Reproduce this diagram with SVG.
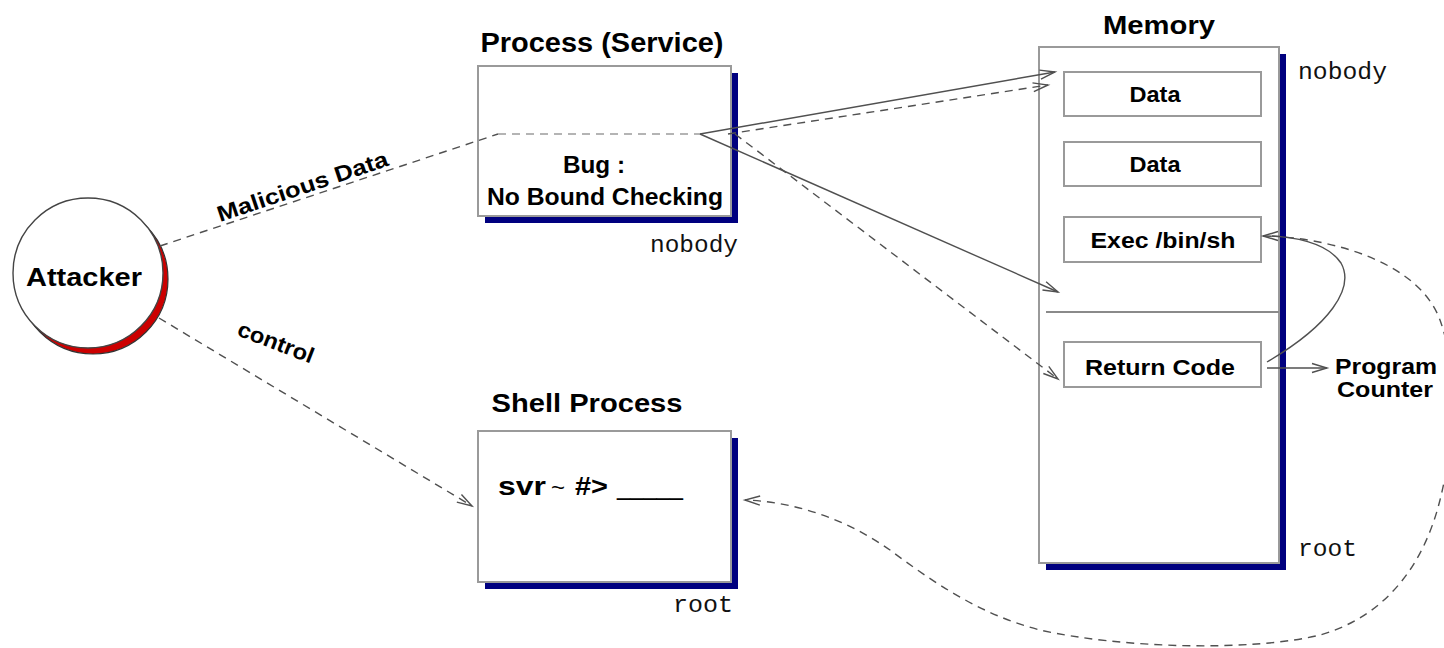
<svg xmlns="http://www.w3.org/2000/svg" width="1444" height="648" viewBox="0 0 1444 648">
<style>
  .box { fill: #ffffff; stroke: #9a9a9a; stroke-width: 2; }
  .shadow { fill: #00007f; }
  .cell { fill: #ffffff; stroke: #9a9a9a; stroke-width: 2; }
  .t { font-family: "Liberation Sans", Arial, sans-serif; font-weight: bold; fill: #000; }
  .m { font-family: "Liberation Mono", "Courier New", monospace; fill: #111; }
  .ln { fill: none; stroke: #505050; stroke-width: 1.4; }
  .dash { fill: none; stroke: #505050; stroke-width: 1.4; stroke-dasharray: 8 6; }
  .dashlight { fill: none; stroke: #b4b4b4; stroke-width: 2; stroke-dasharray: 8 6; }
</style>
<defs>
  <marker id="arr" markerUnits="userSpaceOnUse" markerWidth="18" markerHeight="12" refX="15" refY="6" orient="auto" overflow="visible">
    <path d="M0,1.5 L15,6 L0,10.5" fill="none" stroke="#505050" stroke-width="1.4"/>
  </marker>
</defs>

<g id="attacker">
  <circle cx="93" cy="279" r="75" fill="#cc0000" stroke="#333" stroke-width="1.2"/>
  <circle cx="88" cy="273" r="75" fill="#ffffff" stroke="#444" stroke-width="1.4"/>
  <text class="t" x="84" y="286" font-size="26" text-anchor="middle" textLength="116" lengthAdjust="spacingAndGlyphs">Attacker</text>
</g>

<g id="label-malicious">
  <text class="t" x="220" y="222" font-size="22" textLength="179" lengthAdjust="spacingAndGlyphs" transform="rotate(-18.5 220 222)">Malicious Data</text>
</g>
<g id="label-control">
  <text class="t" x="236" y="335" font-size="22" textLength="80" lengthAdjust="spacingAndGlyphs" transform="rotate(21 236 335)">control</text>
</g>

<g id="process">
  <rect class="shadow" x="485" y="73" width="253" height="150"/>
  <rect class="box" x="478" y="66" width="253" height="150"/>
  <text class="t" x="602" y="52" font-size="27" text-anchor="middle" textLength="243" lengthAdjust="spacingAndGlyphs">Process (Service)</text>
  <text class="t" x="594" y="173" font-size="24" text-anchor="middle" textLength="62" lengthAdjust="spacingAndGlyphs">Bug :</text>
  <text class="t" x="605" y="205" font-size="24" text-anchor="middle" textLength="236" lengthAdjust="spacingAndGlyphs">No Bound Checking</text>
  <text class="m" x="650" y="252" font-size="23" textLength="88" lengthAdjust="spacingAndGlyphs">nobody</text>
</g>

<g id="shell">
  <rect class="shadow" x="485" y="438" width="253" height="151"/>
  <rect class="box" x="478" y="431" width="253" height="151"/>
  <text class="t" x="587" y="412" font-size="25" text-anchor="middle" textLength="191" lengthAdjust="spacingAndGlyphs">Shell Process</text>
  <text class="t" y="495" font-size="26"><tspan x="498" textLength="48" lengthAdjust="spacingAndGlyphs">svr</tspan><tspan x="551" font-size="22" font-weight="normal" textLength="14" lengthAdjust="spacingAndGlyphs">~</tspan><tspan x="575" textLength="33" lengthAdjust="spacingAndGlyphs">#&gt;</tspan><tspan x="617" font-weight="normal" textLength="66" lengthAdjust="spacingAndGlyphs">_____</tspan></text>
  <text class="m" x="673" y="612" font-size="23" textLength="60" lengthAdjust="spacingAndGlyphs">root</text>
</g>

<g id="memory">
  <rect class="shadow" x="1046" y="54" width="240" height="516"/>
  <rect class="box" x="1039" y="47" width="240" height="516"/>
  <line x1="1046" y1="312" x2="1279" y2="312" stroke="#8a8a8a" stroke-width="2"/>
  <text class="t" x="1159" y="34" font-size="25" text-anchor="middle" textLength="112" lengthAdjust="spacingAndGlyphs">Memory</text>
  <text class="m" x="1298" y="79" font-size="23" textLength="89" lengthAdjust="spacingAndGlyphs">nobody</text>
  <text class="m" x="1298" y="556" font-size="23" textLength="59" lengthAdjust="spacingAndGlyphs">root</text>
</g>

<g id="data1">
  <rect class="cell" x="1064" y="72" width="197" height="44"/>
  <text class="t" x="1155" y="102" font-size="22" text-anchor="middle" textLength="51" lengthAdjust="spacingAndGlyphs">Data</text>
</g>
<g id="data2">
  <rect class="cell" x="1064" y="142" width="197" height="44"/>
  <text class="t" x="1155" y="172" font-size="22" text-anchor="middle" textLength="51" lengthAdjust="spacingAndGlyphs">Data</text>
</g>
<g id="exec">
  <rect class="cell" x="1064" y="217" width="197" height="45"/>
  <text class="t" x="1163" y="248" font-size="22" text-anchor="middle" textLength="145" lengthAdjust="spacingAndGlyphs">Exec /bin/sh</text>
</g>
<g id="retcode">
  <rect class="cell" x="1064" y="342" width="197" height="45"/>
  <text class="t" x="1160" y="375" font-size="22" text-anchor="middle" textLength="150" lengthAdjust="spacingAndGlyphs">Return Code</text>
</g>

<g id="pc">
  <text class="t" x="1386" y="374" font-size="22" text-anchor="middle" textLength="102" lengthAdjust="spacingAndGlyphs">Program</text>
  <text class="t" x="1385" y="397" font-size="22" text-anchor="middle" textLength="96" lengthAdjust="spacingAndGlyphs">Counter</text>
</g>

<g id="connectors">
  <polyline class="dash" points="160,246 498,134"/>
  <line class="dashlight" x1="498" y1="134" x2="700" y2="134"/>
  <line class="ln" x1="700" y1="134" x2="1055" y2="72" marker-end="url(#arr)"/>
  <line class="dash" x1="728" y1="134" x2="1048" y2="85" marker-end="url(#arr)"/>
  <line class="ln" x1="700" y1="134" x2="1058" y2="292" marker-end="url(#arr)"/>
  <line class="dash" x1="735" y1="134" x2="1058" y2="379" marker-end="url(#arr)"/>
  <line class="dash" x1="159" y1="318" x2="472" y2="506" marker-end="url(#arr)"/>
  <path class="ln" d="M1267,362 C1330,325 1355,288 1341,263 C1327,242 1292,236 1263,236" marker-end="url(#arr)"/>
  <line class="ln" x1="1267" y1="368" x2="1327" y2="368" marker-end="url(#arr)"/>
  <path class="dash" d="M1272,236 C1340,240 1420,265 1440,320 C1458,370 1455,440 1440,500 C1425,560 1390,615 1320,635 C1250,652 1120,648 1040,630 C980,615 930,580 890,550 C850,522 800,502 745,500" marker-end="url(#arr)"/>
</g>
</svg>
